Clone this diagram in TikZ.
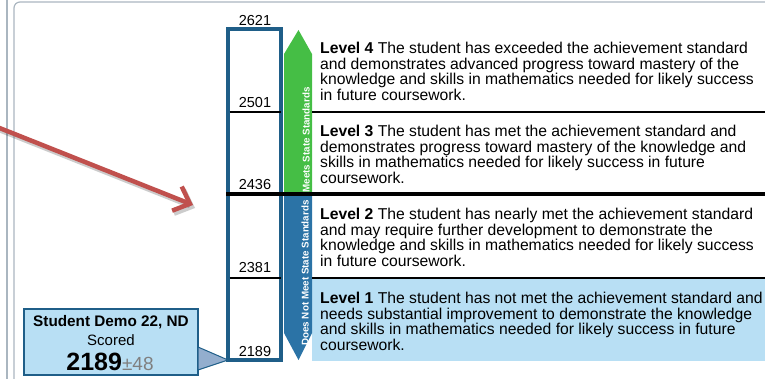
\documentclass[tikz,border=0pt]{standalone}
\usepackage{fontspec}
\setmainfont{Liberation Sans}
\usetikzlibrary{arrows.meta,positioning}
\definecolor{barblue}{HTML}{1F5E88}
\definecolor{downblue}{HTML}{2B73A6}
\definecolor{paleblue}{HTML}{B8DFF4}
\definecolor{meetgreen}{HTML}{45BE45}
\definecolor{framegray}{HTML}{AAB6C0}
\definecolor{pointred}{HTML}{C0504D}
\definecolor{calloutfill}{HTML}{93AECE}
\tikzstyle{cut} = [font=\fontsize{14.5}{15}\selectfont, inner sep=0pt]
\tikzstyle{desc} = [anchor=north west, align=left, inner sep=0pt, font=\fontsize{15.7}{15.6}\selectfont]
\tikzstyle{tag} = [rotate=90, text=white, inner sep=0pt, font=\bfseries\fontsize{9.8}{10}\selectfont]
\tikzstyle{divider} = [draw=black, line width=2pt]
\tikzstyle{pointer} = [line width=4.5pt, -{Straight Barb[length=14pt,width=26pt]}]

\begin{document}
\begin{tikzpicture}[x=1pt, y=-1pt]
	\useasboundingbox (0,0) rectangle (765,379);
	
	% frame
	\draw [framegray, line width=1.2pt] (7,0) -- (7,379);
	\draw [framegray, line width=1.2pt, rounded corners=6pt] (14,379) -- (14,2) -- (765,2);
	
	\fill [paleblue] (312,279) rectangle (765,361);
	
	% arrows
	\fill [meetgreen] (284,194) -- (284,54) -- (298.5,30) -- (312,54) -- (312,194) -- cycle;
	\fill [downblue] (284,196) -- (284,333) -- (298.5,360) -- (312,333) -- (312,196) -- cycle;
	\node [tag] (meets) at (306,140) {Meets State Standards};
	\node [tag] (notmeets) at (305,273) {Does Not Meet State Standards};
	
	% scale
	\node [draw=barblue, line width=3.5pt, minimum width=53pt, minimum height=331pt, inner sep=0pt, outer sep=0pt, anchor=north west] (bar) at (228,29) {};
	
	\node [cut] (s2621) at (255,21) {2621};
	\node [cut] (s2501) at (255,103) {2501};
	\node [cut] (s2436) at (255,185) {2436};
	\node [cut] (s2381) at (255,268) {2381};
	\node [cut] (s2189) at (255,352) {2189};
	
	\draw [divider] (229.5,112) -- (280.5,112);
	\draw [divider] (312,112) -- (765,112);
	\draw [divider, line width=4pt] (226,194) -- (765,194);
	\draw [divider] (229.5,278) -- (280.5,278);
	\draw [divider] (312,278) -- (765,278);
	
	\node [desc] (lvl4) at (320,42) {\textbf{Level 4} The student has exceeded the achievement standard\\and demonstrates advanced progress toward mastery of the\\knowledge and skills in mathematics needed for likely success\\in future coursework.};
	\node [desc] (lvl3) at (320,125) {\textbf{Level 3} The student has met the achievement standard and\\demonstrates progress toward mastery of the knowledge and\\skills in mathematics needed for likely success in future\\coursework.};
	\node [desc] (lvl2) at (320,208) {\textbf{Level 2} The student has nearly met the achievement standard\\and may require further development to demonstrate the\\knowledge and skills in mathematics needed for likely success\\in future coursework.};
	\node [desc] (lvl1) at (320,292) {\textbf{Level 1} The student has not met the achievement standard and\\needs substantial improvement to demonstrate the knowledge\\and skills in mathematics needed for likely success in future\\coursework.};
	
	% student score
	\node [draw=barblue, fill=paleblue, line width=2pt, minimum width=174pt, minimum height=66pt, inner sep=0pt] (student) at (111,342) {};
	\draw [barblue, fill=calloutfill, line width=1pt] (198,347) -- (bar.south west) -- (198,370) -- cycle;
	\node [font=\bfseries\fontsize{15.3}{15}\selectfont, inner sep=0pt] (name) at (111,322) {Student Demo 22, ND};
	\node [font=\fontsize{15}{15}\selectfont, inner sep=0pt] (scored) at (111,340) {Scored};
	\node [inner sep=0pt, anchor=base] (score) at (110,370) {{\bfseries\fontsize{25}{25}\selectfont 2189}{\color{gray}\fontsize{19}{19}\selectfont ±48}};
	
	% pointer
	\coordinate (redtail) at (-3,127);
	\coordinate (redtip) at (193,205);
	\draw [pointer, black, opacity=0.2, transform canvas={shift={(2pt,-3pt)}}] (redtail) -- (redtip);
	\draw [pointer, pointred] (redtail) -- (redtip);
\end{tikzpicture}
\end{document}
